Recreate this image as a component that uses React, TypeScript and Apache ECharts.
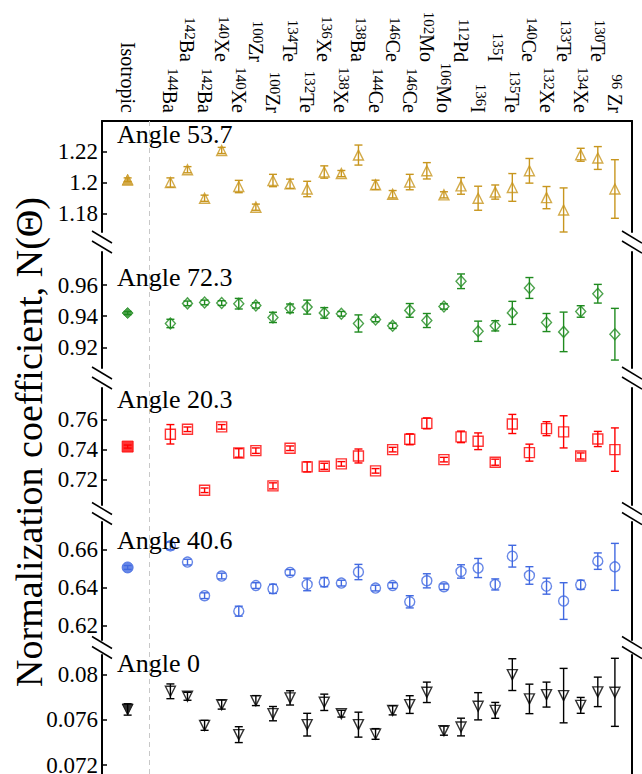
import React, { useEffect, useRef } from "react";
import * as echarts from "echarts";

const FONT = "'Liberation Serif', 'Times New Roman', serif";

const ISO_LABEL = "Isotropic";
const Y_TITLE = "Normalization coefficient, N(\u0398)";
const MASS = ["144","142","142","140","140","100","100","134","132","136","138","138","144","146","146","102","106","112","136","135","135","140","132","133","134","130","96"];
const ELEM = ["Ba","Ba","Ba","Xe","Xe","Zr","Zr","Te","Te","Xe","Xe","Ba","Ce","Ce","Ce","Mo","Mo","Pd","I","I","Te","Ce","Xe","Te","Xe","Te"," Zr"];

const PANEL_NAMES = ["Angle 53.7", "Angle 72.3", "Angle 20.3", "Angle 40.6", "Angle 0"];

const angle53_7 = [1.2002,1.2085,1.190,1.221,1.1976,1.1842,1.2015,1.1994,1.196,1.207,1.206,1.218,1.1987,1.1926,1.2005,1.2078,1.1922,1.198,1.190,1.194,1.197,1.2078,1.1904,1.1824,1.2182,1.2161,1.196];
const angle53_7Err = [0.003,0.002,0.002,0.002,0.004,0.002,0.004,0.003,0.005,0.004,0.002,0.0065,0.003,0.0024,0.005,0.0053,0.002,0.0054,0.0078,0.0046,0.009,0.008,0.0072,0.0143,0.0042,0.0074,0.019];

const angle72_3 = [0.9353,0.9482,0.9488,0.9484,0.948,0.9469,0.9392,0.945,0.9458,0.9421,0.9415,0.9353,0.9379,0.9338,0.9437,0.9372,0.9462,0.9624,0.9303,0.9338,0.9421,0.9581,0.9359,0.9299,0.943,0.9544,0.9284];
const angle72_3Err = [0.0027,0.0015,0.0015,0.0015,0.0034,0.0017,0.0033,0.0028,0.0045,0.0034,0.0015,0.0055,0.0015,0.0017,0.0044,0.0045,0.0017,0.0047,0.0065,0.0033,0.0074,0.0067,0.0058,0.0127,0.0037,0.006,0.0166];

const angle20_3 = [0.7501,0.7534,0.7132,0.755,0.7378,0.7393,0.7161,0.7409,0.7286,0.729,0.7306,0.7358,0.726,0.74,0.7468,0.7573,0.7334,0.7484,0.7455,0.7317,0.7569,0.738,0.7538,0.7517,0.7358,0.747,0.74];
const angle20_3Err = [0.0064,0.0015,0.0015,0.0015,0.0028,0.0018,0.002,0.0015,0.0033,0.002,0.0015,0.0046,0.0015,0.0015,0.0036,0.0036,0.0015,0.0038,0.0055,0.002,0.0063,0.0056,0.0046,0.0106,0.002,0.005,0.0143];

const angle40_6 = [0.6618,0.6533,0.6357,0.646,0.6276,0.641,0.6393,0.6479,0.6416,0.6428,0.6423,0.6481,0.6397,0.641,0.6325,0.6435,0.6404,0.6484,0.6502,0.6416,0.6564,0.6463,0.6407,0.6329,0.6414,0.6538,0.6508];
const angle40_6Err = [0.002,0.0015,0.0015,0.0015,0.0026,0.0015,0.0024,0.0015,0.0033,0.0024,0.0015,0.004,0.0015,0.0015,0.0032,0.0037,0.0015,0.0035,0.005,0.0029,0.0057,0.0046,0.0042,0.0096,0.0024,0.0043,0.0123];

const angle0 = [0.0785,0.07806,0.0755,0.07733,0.07468,0.07768,0.07653,0.07792,0.07556,0.07753,0.07653,0.07556,0.07474,0.07682,0.07733,0.07841,0.07503,0.07535,0.07718,0.07682,0.07997,0.07783,0.07821,0.07812,0.07726,0.07845,0.07841];
const angle0Err = [0.00065,0.00035,0.00044,0.0004,0.0007,0.00044,0.00063,0.00063,0.001,0.00072,0.0003,0.0011,0.00047,0.0004,0.00078,0.0009,0.0004,0.00078,0.0012,0.0007,0.0014,0.0013,0.0011,0.0024,0.0007,0.0013,0.003];

const ISO_VALUES = [1.202, 0.942, 0.742, 0.6505, 0.0769];
const ISO_ERRORS = [0.0012, 0.001, 0.001, 0.001, 0.0005];

const TICKS = [
  [1.18, 1.2, 1.22],
  [0.92, 0.94, 0.96],
  [0.72, 0.74, 0.76],
  [0.62, 0.64, 0.66],
  [0.072, 0.076, 0.08],
];
const Y_MIN = [1.1681, 0.9067, 0.7035, 0.6125, 0.0698];
const Y_MAX = [1.2401, 0.9812, 0.7806, 0.6743, 0.0817];

const VALUES = [angle53_7, angle72_3, angle20_3, angle40_6, angle0];
const ERRORS = [angle53_7Err, angle72_3Err, angle20_3Err, angle40_6Err, angle0Err];

// layout
const LEFT = 102;
const RIGHT = 10;
const PANEL_TOP = [121, 252, 388, 522, 655];
const PANEL_BOTTOM = [232, 368, 505, 640, 790];
const LABEL_Y = [134, 277, 399, 540, 663];
const COLORS = ["#C8961E", "#1F8B1F", "#FF0000", "#4169E1", "#000000"];
const SYMBOLS = ["triangle", "diamond", "rect", "circle", "triangle"];
const ROTATE = [0, 0, 0, 0, 180];

const X_MIN = -3;
const X_MAX = 59;
const ISO_X = 0;
const fragX = (i: number) => 5 + 2 * i;
const SEPARATOR_X = 2.5;

export default function App() {
  const ref = useRef<HTMLDivElement>(null);
  useEffect(() => {
    document.body.style.margin = "0";
    const chart = echarts.init(ref.current!, null, { renderer: "svg" });

    const grids: any[] = [];
    const xAxes: any[] = [];
    const yAxes: any[] = [];
    const series: any[] = [];

    for (let p = 0; p < 5; p++) {
      grids.push({
        left: LEFT,
        right: RIGHT,
        top: PANEL_TOP[p],
        height: PANEL_BOTTOM[p] - PANEL_TOP[p],
        containLabel: false,
        outerBoundsMode: "none",
      });
      xAxes.push({
        gridIndex: p,
        type: "value",
        min: X_MIN,
        max: X_MAX,
        show: p === 0,
        position: "top",
        axisLine: { show: true, onZero: false, lineStyle: { color: "#000", width: 2 } },
        axisTick: { show: false },
        axisLabel: { show: false },
        splitLine: { show: false },
      });
    }
    // background grid
    grids.push({
      left: LEFT,
      right: RIGHT,
      top: PANEL_TOP[0],
      bottom: 0,
      containLabel: false,
      outerBoundsMode: "none",
    });
    const labelAxis = (row: number, margin: number) => ({
      gridIndex: 5,
      type: "value",
      min: X_MIN,
      max: X_MAX,
      interval: 1,
      position: "top",
      axisLine: { show: false, onZero: false },
      axisTick: { show: false },
      splitLine: { show: false },
      axisLabel: {
        show: true,
        rotate: 90,
        margin,
        color: "#000",
        fontSize: 20,
        fontFamily: FONT,
        showMinLabel: true,
        showMaxLabel: true,
        formatter: (v: number) => {
          if (v === ISO_X) return row === 0 ? ISO_LABEL : "";
          const idx = (v - 5) / 2;
          if (Number.isInteger(idx) && idx >= 0 && idx < MASS.length && idx % 2 === row) {
            return `{s|${MASS[idx]}}{e|${ELEM[idx]}}`;
          }
          return "";
        },
        rich: {
          s: { fontSize: 15, fontFamily: FONT, color: "#000", verticalAlign: "top" },
          e: { fontSize: 20, fontFamily: FONT, color: "#000", verticalAlign: "bottom" },
        },
      },
    });
    xAxes.push(labelAxis(0, 8));
    xAxes.push(labelAxis(1, 59));

    for (let p = 0; p < 5; p++) {
      yAxes.push({
        gridIndex: p,
        type: "value",
        min: Y_MIN[p],
        max: Y_MAX[p],
        position: "left",
        axisLine: { show: true, onZero: false, lineStyle: { color: "#000", width: 2 } },
        axisTick: {
          show: true,
          inside: true,
          length: 5,
          lineStyle: { color: "#000", width: 1.5 },
          customValues: TICKS[p],
        },
        axisLabel: {
          show: true,
          customValues: TICKS[p],
          color: "#000",
          fontSize: 23,
          fontFamily: FONT,
          margin: 4,
        },
        splitLine: { show: false },
      });
    }
    for (let p = 0; p < 5; p++) {
      yAxes.push({
        gridIndex: p,
        type: "value",
        min: Y_MIN[p],
        max: Y_MAX[p],
        position: "right",
        axisLine: { show: true, onZero: false, lineStyle: { color: "#000", width: 2 } },
        axisTick: { show: false },
        axisLabel: { show: false },
        splitLine: { show: false },
      });
    }
    yAxes.push({
      gridIndex: 5,
      type: "value",
      min: 0,
      max: 1,
      show: false,
    });

    // separator line
    series.push({
      type: "scatter",
      xAxisIndex: 5,
      yAxisIndex: 10,
      symbolSize: 0,
      data: [[SEPARATOR_X, 0.5]],
      silent: true,
      z: 0,
      markLine: {
        silent: true,
        symbol: "none",
        label: { show: false },
        lineStyle: { type: [5, 4], color: "#C8C8C8", width: 1 },
        data: [{ xAxis: SEPARATOR_X }],
      },
    });

    for (let p = 0; p < 5; p++) {
      const color = COLORS[p];
      const vals = VALUES[p];
      const errs = ERRORS[p];
      const errData: number[][] = vals.map((v, i) => [fragX(i), v - errs[i], v + errs[i]]);
      errData.push([ISO_X, ISO_VALUES[p] - ISO_ERRORS[p], ISO_VALUES[p] + ISO_ERRORS[p]]);
      series.push({
        type: "custom",
        xAxisIndex: p,
        yAxisIndex: p,
        data: errData,
        encode: { x: 0, y: [1, 2] },
        z: 3,
        renderItem: (params: any, api: any) => {
          const x = api.value(0);
          const lo = api.coord([x, api.value(1)]);
          const hi = api.coord([x, api.value(2)]);
          const hw = 4;
          const st = { stroke: color, lineWidth: 1.4 };
          return {
            type: "group",
            children: [
              { type: "line", shape: { x1: lo[0], y1: lo[1], x2: hi[0], y2: hi[1] }, style: st },
              { type: "line", shape: { x1: lo[0] - hw, y1: lo[1], x2: lo[0] + hw, y2: lo[1] }, style: st },
              { type: "line", shape: { x1: hi[0] - hw, y1: hi[1], x2: hi[0] + hw, y2: hi[1] }, style: st },
            ],
          };
        },
      });
      series.push({
        type: "scatter",
        xAxisIndex: p,
        yAxisIndex: p,
        data: vals.map((v, i) => [fragX(i), v]),
        symbol: SYMBOLS[p],
        symbolRotate: ROTATE[p],
        symbolSize: SYMBOLS[p] === "diamond" ? [10, 11] : 10,
        itemStyle: { color: "rgba(255,255,255,0)", borderColor: color, borderWidth: 1.4 },
        z: 4,
      });
      series.push({
        type: "scatter",
        xAxisIndex: p,
        yAxisIndex: p,
        data: [[ISO_X, ISO_VALUES[p]]],
        symbol: SYMBOLS[p],
        symbolRotate: ROTATE[p],
        symbolSize: 11,
        itemStyle: { color, borderColor: color, borderWidth: 1 },
        z: 4,
      });
    }

    // break marks, angle labels, y title
    const graphics: any[] = [];
    const xL = LEFT;
    const xR = 642 - RIGHT;
    for (let p = 0; p < 4; p++) {
      const c = (PANEL_BOTTOM[p] + PANEL_TOP[p + 1]) / 2;
      for (const ax of [xL, xR]) {
        for (const d of [-5, 5]) {
          graphics.push({
            type: "line",
            shape: { x1: ax - 10, y1: c + d - 6, x2: ax + 10, y2: c + d + 6 },
            style: { stroke: "#000", lineWidth: 1.5 },
            z: 10,
          });
        }
      }
    }
    for (let p = 0; p < 5; p++) {
      graphics.push({
        type: "text",
        x: 117,
        y: LABEL_Y[p],
        style: {
          text: PANEL_NAMES[p],
          fontSize: 26,
          fontFamily: FONT,
          fill: "#000",
          verticalAlign: "middle",
          align: "left",
        },
        z: 10,
      });
    }
    graphics.push({
      type: "text",
      x: 29,
      y: 442,
      rotation: Math.PI / 2,
      style: {
        text: Y_TITLE,
        fontSize: 38,
        fontFamily: FONT,
        fill: "#000",
        align: "center",
        verticalAlign: "middle",
      },
      z: 10,
    });

    chart.setOption({
      animation: false,
      backgroundColor: "#fff",
      grid: grids,
      xAxis: xAxes,
      yAxis: yAxes,
      series,
      graphic: graphics,
    });
    return () => chart.dispose();
  }, []);
  return <div ref={ref} style={{ width: 642, height: 774 }} />;
}
